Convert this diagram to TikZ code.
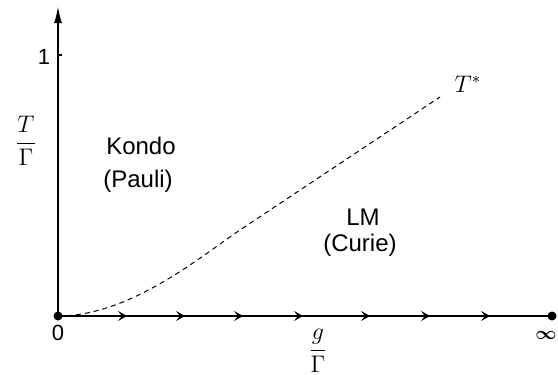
\documentclass[tikz,border=0pt]{standalone}
\usepackage{fontspec}
\setmainfont{Liberation Sans}
\usepackage{amsmath}
\usetikzlibrary{arrows.meta,decorations.markings}

\begin{document}
\begin{tikzpicture}[x=0.5pt, y=-0.5pt,
    axis/.style={line width=1pt},
    flowline/.style={line width=0.5pt, dash pattern=on 2.5pt off 2pt},
    dot/.style={circle, fill, inner sep=0pt, minimum size=4.5pt},
    region/.style={font=\fontsize{12}{14}\selectfont, anchor=base},
    ticklabel/.style={font=\fontsize{11}{13}\selectfont}]
  \useasboundingbox (0,0) rectangle (558,375);
  % axes
  \node[dot] (zero) at (58,316) {};
  \node[dot] (inf) at (552,316) {};
  \coordinate (ytop) at (58,6);
  \coordinate (one) at (58,55);
  \draw[axis, -{Latex[length=8.5pt, width=4pt]}] (zero.center) -- (ytop);
  \draw[axis] (one) -- ++(4,0);
  \draw[axis, postaction={decorate}, decoration={markings,
      mark=at position 34.5pt with {\arrow{Stealth[length=4.5pt, width=5pt, inset=2pt]}},
      mark=at position 63.5pt with {\arrow{Stealth[length=4.5pt, width=5pt, inset=2pt]}},
      mark=at position 92.5pt with {\arrow{Stealth[length=4.5pt, width=5pt, inset=2pt]}},
      mark=at position 122.5pt with {\arrow{Stealth[length=4.5pt, width=5pt, inset=2pt]}},
      mark=at position 156pt with {\arrow{Stealth[length=4.5pt, width=5pt, inset=2pt]}},
      mark=at position 186pt with {\arrow{Stealth[length=4.5pt, width=5pt, inset=2pt]}},
      mark=at position 216pt with {\arrow{Stealth[length=4.5pt, width=5pt, inset=2pt]}}}]
    (zero.center) -- (inf.center);
  % crossover line
  \coordinate (tend) at (440,97);
  \draw[flowline] (zero.center) .. controls (130,316) and (200,257) .. (240,230) -- (tend);
  % labels
  \node[ticklabel] (lone) at (44,57) {1};
  \node[ticklabel] (lzero) at (58,333) {0};
  \node[font=\fontsize{9}{10}\selectfont] (linf) at (546,335) {$\boldsymbol{\infty}$};
  \node[region] (tstar) at (468,92) {$T^*$};
  \node[region] (ylab) at (26,149) {$\dfrac{T}{\Gamma}$};
  \node[region] (xlab) at (318,356) {$\dfrac{g}{\Gamma}$};
  \node[region] (kondo) at (141,155) {Kondo};
  \node[region] (pauli) at (138,187) {(Pauli)};
  \node[region] (lm) at (363,225) {LM};
  \node[region] (curie) at (360,251) {(Curie)};
\end{tikzpicture}
\end{document}
